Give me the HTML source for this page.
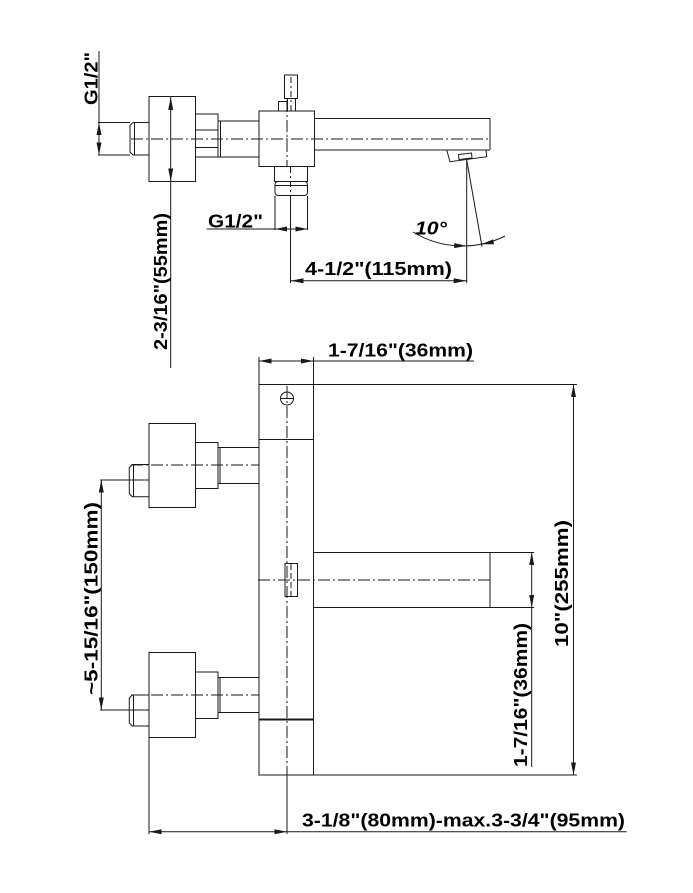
<!DOCTYPE html>
<html><head><meta charset="utf-8"><style>
html,body{margin:0;padding:0;background:#fff;}
svg{display:block;}
text{font-family:"Liberation Sans",Arial,sans-serif;font-weight:bold;font-size:18.5px;fill:#000;}
</style></head><body>
<svg width="693" height="893" viewBox="0 0 693 893" xmlns="http://www.w3.org/2000/svg">
<rect x="0" y="0" width="693" height="893" fill="#fff"/>
<g fill="none" stroke="#1a1a1a" stroke-width="1">
  <!-- ===== TOP VIEW ===== -->
  <!-- G1/2 top-left dim -->
  <line x1="98" y1="122.5" x2="130" y2="122.5"/>
  <line x1="98" y1="155" x2="130" y2="155"/>
  <line x1="99" y1="51" x2="99" y2="155"/>
  <!-- nipple -->
  <path d="M149,122.5 H133 L130,125.5 V152 L133,155 H149"/>
  <line x1="134.5" y1="122.5" x2="134.5" y2="155"/>
  <!-- nut -->
  <rect x="149" y="96.5" width="46.5" height="85"/>
  <!-- hex -->
  <rect x="195.5" y="114" width="22.5" height="43"/>
  <line x1="195.5" y1="130" x2="218" y2="130"/>
  <line x1="195.5" y1="147.5" x2="218" y2="147.5"/>
  <rect x="218" y="121" width="2.5" height="36"/>
  <!-- pipe -->
  <line x1="220.5" y1="121" x2="259" y2="121"/>
  <line x1="220.5" y1="157" x2="259" y2="157"/>
  <!-- body -->
  <rect x="259" y="111" width="55.5" height="55.5"/>
  <!-- handle -->
  <rect x="278.5" y="101.5" width="8.5" height="9.5"/>
  <rect x="284.5" y="75" width="13" height="23.5"/>
  <line x1="287.5" y1="98.5" x2="287.5" y2="111"/>
  <line x1="295.5" y1="98.5" x2="295.5" y2="111"/>
  <line x1="291" y1="77" x2="291" y2="111" stroke-dasharray="6 3 2 3"/>
  <line x1="287" y1="100" x2="287" y2="166" stroke-dasharray="12 3 2 3"/>
  <!-- outlet -->
  <rect x="274.5" y="166.5" width="33" height="15"/>
  <rect x="275" y="181.5" width="32.5" height="14" rx="3"/>
  <line x1="275.5" y1="185.5" x2="307" y2="185.5"/>
  <line x1="290.5" y1="167" x2="290.5" y2="196" stroke-dasharray="6 3 2 3"/>
  <line x1="290.5" y1="196" x2="290.5" y2="283"/>
  <line x1="275" y1="196" x2="275" y2="230"/>
  <line x1="307.5" y1="196" x2="307.5" y2="230"/>
  <line x1="206.5" y1="229" x2="307.5" y2="229"/>
  <!-- spout -->
  <line x1="314.5" y1="118.5" x2="490" y2="118.5"/>
  <line x1="314.5" y1="150" x2="490" y2="150"/>
  <line x1="490" y1="118.5" x2="490" y2="150"/>
  <line x1="131" y1="139" x2="490" y2="139" stroke-dasharray="12 3 2 3"/>
  <!-- aerator -->
  <polygon points="446.7,150 486,150 486.7,156.7 450,161.7"/>
  <polygon points="458.5,154.5 471.5,153 472,158 459,159.5"/>
  <!-- 10 deg -->
  <line x1="466.7" y1="160" x2="466.7" y2="283"/>
  <line x1="466.7" y1="160" x2="482" y2="246.5"/>
  <path d="M413,232 A95,95 0 0 0 505,236"/>
  <!-- 4-1/2 dim -->
  <line x1="290.5" y1="280.7" x2="466.7" y2="280.7"/>
  <!-- 55mm -->
  <line x1="170.7" y1="97" x2="170.7" y2="368"/>

  <!-- ===== FRONT VIEW ===== -->
  <rect x="259" y="384.5" width="54.5" height="390.5"/>
  <line x1="259" y1="439.5" x2="313.5" y2="439.5"/>
  <line x1="259" y1="719.5" x2="313.5" y2="719.5" stroke-width="2"/>
  <circle cx="287" cy="398.5" r="6.5"/>
  <line x1="280.5" y1="398.5" x2="293.5" y2="398.5"/>
  <line x1="287" y1="386" x2="287" y2="775" stroke-dasharray="12 3 2 3"/>
  <line x1="287" y1="775" x2="287" y2="834"/>
  <!-- top 36mm dim -->
  <line x1="259" y1="357" x2="259" y2="384.5"/>
  <line x1="313.5" y1="357" x2="313.5" y2="384.5"/>
  <line x1="259" y1="361" x2="474" y2="361"/>
  <!-- 10" dim -->
  <line x1="313.5" y1="384.5" x2="577" y2="384.5"/>
  <line x1="313.5" y1="775" x2="577" y2="775"/>
  <line x1="573.5" y1="384.5" x2="573.5" y2="775"/>
  <!-- spout front -->
  <line x1="313.5" y1="552.5" x2="534" y2="552.5"/>
  <line x1="313.5" y1="607.5" x2="534" y2="607.5"/>
  <line x1="490" y1="552.5" x2="490" y2="607.5"/>
  <line x1="258" y1="580" x2="490" y2="580" stroke-dasharray="12 3 2 3"/>
  <rect x="285" y="563.5" width="12.5" height="33"/>
  <line x1="291" y1="564" x2="291" y2="596" stroke-dasharray="6 3"/>
  <line x1="531.7" y1="552.5" x2="531.7" y2="767"/>
  <!-- upper connection -->
  <path d="M149.3,464.5 H132.3 L129.3,467.5 V493.7 L132.3,496.7 H149.3"/>
  <line x1="133.5" y1="464.5" x2="133.5" y2="496.7"/>
  <rect x="149" y="423.5" width="46.5" height="84"/>
  <rect x="195.5" y="442.5" width="22.5" height="46"/>
  <rect x="218" y="447.5" width="2" height="36"/>
  <line x1="220" y1="447.5" x2="259" y2="447.5"/>
  <line x1="220" y1="483.5" x2="259" y2="483.5"/>
  <line x1="131" y1="465" x2="259" y2="465" stroke-dasharray="12 3 2 3"/>
  <line x1="100" y1="480" x2="149" y2="480"/>
  <!-- lower connection -->
  <rect x="149" y="652.5" width="46.5" height="85"/>
  <rect x="195.5" y="672" width="22.5" height="46.5"/>
  <rect x="218" y="677.5" width="2" height="35"/>
  <line x1="220" y1="677.5" x2="259" y2="677.5"/>
  <line x1="220" y1="712.5" x2="259" y2="712.5"/>
  <line x1="131" y1="695" x2="259" y2="695" stroke-dasharray="12 3 2 3"/>
  <path d="M149.3,695 H132.3 L129.3,698 V723 L132.3,726 H149.3"/>
  <line x1="133.5" y1="695" x2="133.5" y2="726"/>
  <line x1="100" y1="710" x2="149" y2="710"/>
  <line x1="149" y1="737.5" x2="149" y2="834"/>
  <line x1="149" y1="831.7" x2="626.7" y2="831.7"/>
  <line x1="101.3" y1="480" x2="101.3" y2="710"/>
</g>
<g fill="#1a1a1a" stroke="none">
  <polygon points="99,122.5 96.5,135 101.5,135"/>
  <polygon points="99,155 96.5,142.5 101.5,142.5"/>
  <polygon points="170.7,97 168.2,110 173.2,110"/>
  <polygon points="170.7,181.5 168.2,168.5 173.2,168.5"/>
  <polygon points="275,229 287,226.5 287,231.5"/>
  <polygon points="307.5,229 295.5,226.5 295.5,231.5"/>
  <polygon points="290.5,280.7 303.5,278.2 303.5,283.2"/>
  <polygon points="466.7,280.7 453.7,278.2 453.7,283.2"/>
  <polygon points="466.7,245.9 454.2,243.1 454.2,248.1"/>
  <polygon points="481.3,244.2 493,239.4 494,244.3"/>
  <polygon points="259,361 271.5,358.5 271.5,363.5"/>
  <polygon points="313.5,361 301,358.5 301,363.5"/>
  <polygon points="573.5,384.5 571,397 576,397"/>
  <polygon points="573.5,775 571,762.5 576,762.5"/>
  <polygon points="531.7,552.5 529.2,565 534.2,565"/>
  <polygon points="531.7,607.5 529.2,595 534.2,595"/>
  <polygon points="101.3,480 98.8,492.5 103.8,492.5"/>
  <polygon points="101.3,710 98.8,697.5 103.8,697.5"/>
  <polygon points="149,831.7 161.5,829.2 161.5,834.2"/>
  <polygon points="287,831.7 274.5,829.2 274.5,834.2"/>
</g>
<!-- texts -->
<text transform="translate(97.5,105) rotate(-90)" textLength="53" lengthAdjust="spacingAndGlyphs">G1/2"</text>
<text transform="translate(166.8,350) rotate(-90)" textLength="137" lengthAdjust="spacingAndGlyphs">2-3/16"(55mm)</text>
<text x="208" y="227.5" textLength="55" lengthAdjust="spacingAndGlyphs">G1/2"</text>
<text x="415" y="234.5" font-style="italic" textLength="32" lengthAdjust="spacingAndGlyphs">10°</text>
<text x="305" y="275" textLength="147" lengthAdjust="spacingAndGlyphs">4-1/2"(115mm)</text>
<text x="328" y="356.5" textLength="145" lengthAdjust="spacingAndGlyphs">1-7/16"(36mm)</text>
<text transform="translate(97.3,695) rotate(-90)" textLength="193" lengthAdjust="spacingAndGlyphs">~5-15/16"(150mm)</text>
<text transform="translate(567.8,647) rotate(-90)" textLength="127" lengthAdjust="spacingAndGlyphs">10"(255mm)</text>
<text transform="translate(526.8,767) rotate(-90)" textLength="144" lengthAdjust="spacingAndGlyphs">1-7/16"(36mm)</text>
<text x="302" y="826.5" textLength="323" lengthAdjust="spacingAndGlyphs">3-1/8"(80mm)-max.3-3/4"(95mm)</text>
</svg>
</body></html>
